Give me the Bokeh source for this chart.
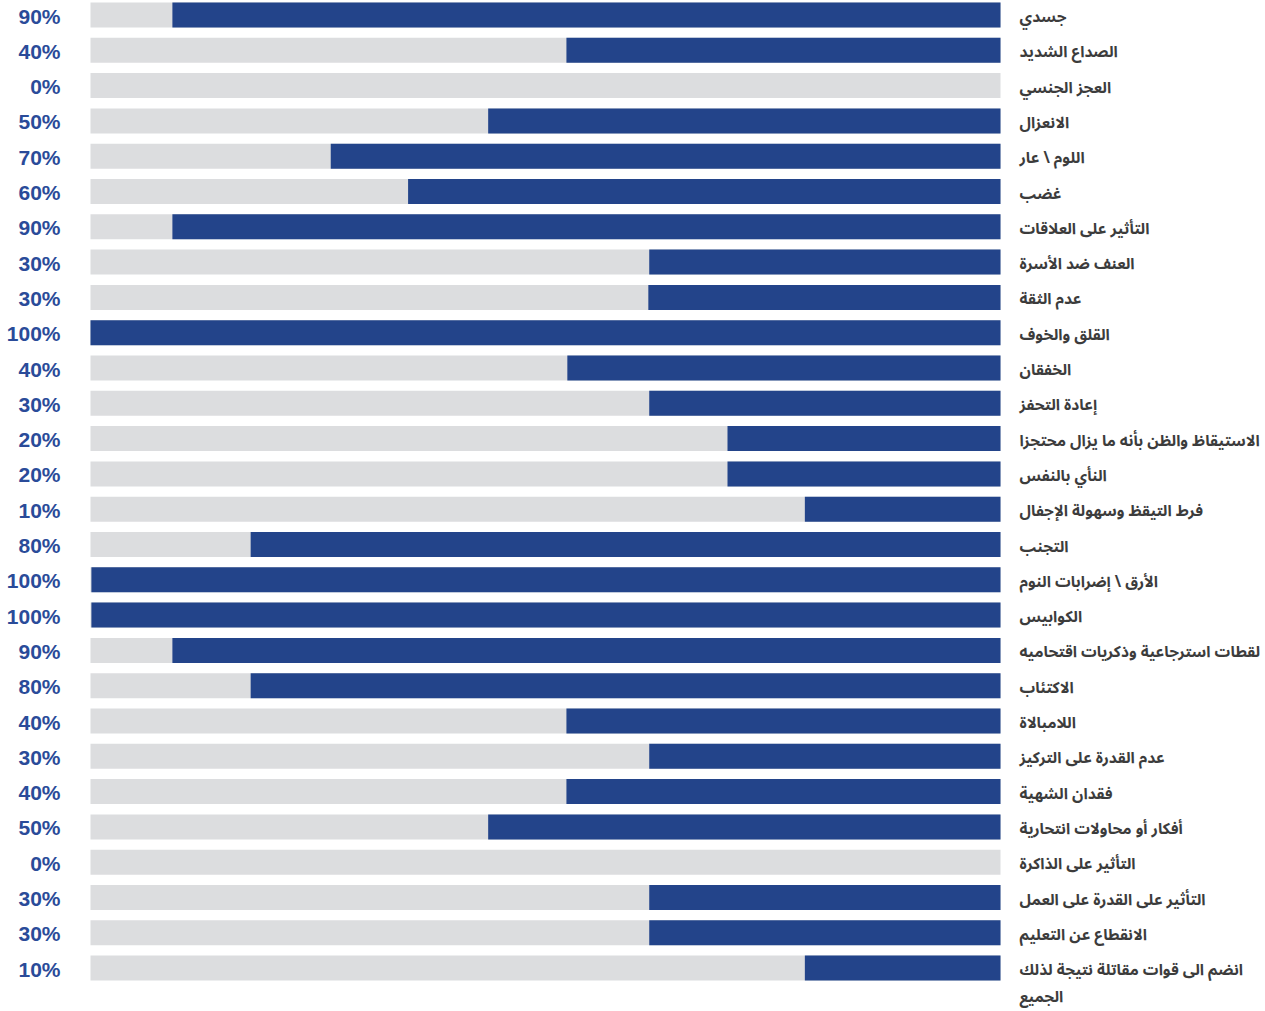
from bokeh.plotting import figure
from bokeh.models import ColumnDataSource, Range1d
from bokeh.embed import file_html
from bokeh.resources import INLINE
from bokeh.core.properties import value

labels = [
    "جسدي",
    "الصداع الشديد",
    "العجز الجنسي",
    "الانعزال",
    "اللوم \\ عار",
    "غضب",
    "التأثير على العلاقات",
    "العنف ضد الأسرة",
    "عدم الثقة",
    "القلق والخوف",
    "الخفقان",
    "إعادة التحفز",
    "الاستيقاظ والظن بأنه ما يزال محتجزا",
    "النأي بالنفس",
    "فرط التيقظ وسهولة الإجفال",
    "التجنب",
    "الأرق \\ إضرابات النوم",
    "الكوابيس",
    "لقطات استرجاعية وذكريات اقتحاميه",
    "الاكتئاب",
    "اللامبالاة",
    "عدم القدرة على التركيز",
    "فقدان الشهية",
    "أفكار أو محاولات انتحارية",
    "التأثير على الذاكرة",
    "التأثير على القدرة على العمل",
    "الانقطاع عن التعليم",
    "انضم الى قوات مقاتلة نتيجة لذلك\nالجميع",
]

pct_labels = ["90%", "40%", "0%", "50%", "70%", "60%", "90%", "30%", "30%", "100%",
              "40%", "30%", "20%", "20%", "10%", "80%", "100%", "100%", "90%", "80%",
              "40%", "30%", "40%", "50%", "0%", "30%", "30%", "10%"]

# blue bar length as drawn in the picture (percent of track width)
bar_len = [91.0, 47.7, 0.0, 56.3, 73.6, 65.1, 91.0, 38.6, 38.7, 100.0,
           47.6, 38.6, 30.0, 30.0, 21.5, 82.4, 99.9, 99.9, 91.0, 82.4,
           47.7, 38.6, 47.7, 56.3, 0.0, 38.6, 38.6, 21.5]

n = len(labels)
rows = list(range(n))

W, H = 1262, 1011
px_per_unit_x = 9.1
x0_px = 90
x_start = -x0_px / px_per_unit_x
x_end = (W - x0_px) / px_per_unit_x

row_px = 35.3
top_px = 14.5
y_top = -top_px / row_px
y_bottom = (H - top_px) / row_px

p = figure(width=W, height=H, output_backend="svg", toolbar_location=None,
           x_range=Range1d(x_start, x_end), y_range=Range1d(y_bottom, y_top),
           min_border=0, outline_line_color=None)
p.axis.visible = False
p.grid.visible = False
p.background_fill_color = "white"
p.border_fill_color = "white"

src = ColumnDataSource(dict(
    y=rows,
    left=[100 - b for b in bar_len],
    right=[100] * n,
    zero=[0] * n,
    lab=labels,
    pct=pct_labels,
))

p.hbar(y="y", left="zero", right="right", height=25 / row_px, source=src,
       fill_color="#dcdddf", line_color=None)
p.hbar(y="y", left="left", right="right", height=25 / row_px, source=src,
       fill_color="#23448a", line_color=None)

p.text(x="zero", y="y", text="pct", source=src, x_offset=-30, y_offset=1,
       text_align="right", text_baseline="middle",
       text_font=value("Liberation Sans"), text_font_style="bold",
       text_font_size="21px", text_color="#2a4b99")

p.text(x="right", y="y", text="lab", source=src, x_offset=19, y_offset=-14,
       text_align="left", text_baseline="top",
       text_font=value("'Noto Sans Arabic', 'Noto Sans'"), text_font_style="bold",
       text_font_size="15.5px", text_color="#3c3c3c", text_line_height=0.85)

open("out.html", "w").write(file_html(p, INLINE))
